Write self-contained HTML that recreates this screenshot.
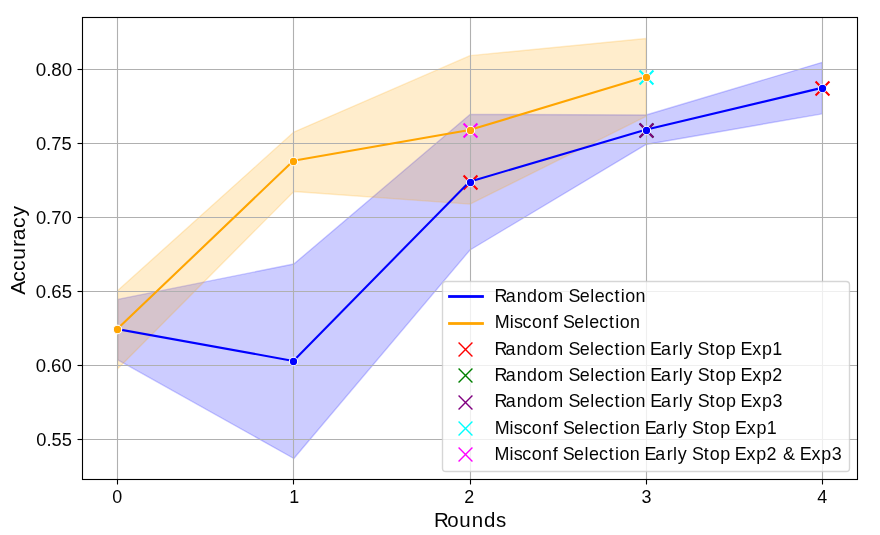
<!DOCTYPE html>
<html><head><meta charset="utf-8"><title>Accuracy vs Rounds</title>
<style>html,body{margin:0;padding:0;background:#fff;} svg{display:block;}</style>
</head><body>
<svg width="880" height="535" viewBox="0 0 880 535">
<defs><clipPath id="ax"><rect x="82" y="17" width="776" height="463"/></clipPath></defs>
<rect width="880" height="535" fill="#fff"/>
<g clip-path="url(#ax)" stroke-linejoin="round">
<path d="M117.73 299.41 L117.73 359.79 L293.86 458.50 L470.00 249.98 L646.14 144.46 L822.27 113.83 L822.27 62.33 L822.27 62.33 L646.14 115.01 L470.00 114.42 L293.86 264.04 L117.73 299.41 Z" fill="#0000ff" fill-opacity="0.2" stroke="#0000ff" stroke-opacity="0.2" stroke-width="1.39"/>
<path d="M117.73 290.53 L117.73 368.67 L293.86 191.52 L470.00 204.10 L646.14 116.34 L646.14 38.50 L646.14 38.50 L470.00 55.67 L293.86 132.03 L117.73 290.53 Z" fill="#ffa500" fill-opacity="0.2" stroke="#ffa500" stroke-opacity="0.2" stroke-width="1.39"/>
</g>
<g clip-path="url(#ax)" fill="none">
<path d="M463.56 189.44L477.44 175.56M463.56 175.56L477.44 189.44" stroke="#ff0000" stroke-width="2.08"/>
<path d="M815.56 95.44L829.44 81.56M815.56 81.56L829.44 95.44" stroke="#ff0000" stroke-width="2.08"/>
<path d="M639.56 137.44L653.44 123.56M639.56 123.56L653.44 137.44" stroke="#008000" stroke-width="2.08"/>
<path d="M639.56 137.44L653.44 123.56M639.56 123.56L653.44 137.44" stroke="#800080" stroke-width="2.08"/>
<path d="M639.56 84.44L653.44 70.56M639.56 70.56L653.44 84.44" stroke="#00ffff" stroke-width="2.08"/>
<path d="M463.56 137.44L477.44 123.56M463.56 123.56L477.44 137.44" stroke="#ff00ff" stroke-width="2.08"/>
</g>
<g stroke="#b0b0b0" stroke-width="1.11">
<line x1="117.5" y1="17" x2="117.5" y2="480"/>
<line x1="293.5" y1="17" x2="293.5" y2="480"/>
<line x1="470.5" y1="17" x2="470.5" y2="480"/>
<line x1="646.5" y1="17" x2="646.5" y2="480"/>
<line x1="822.5" y1="17" x2="822.5" y2="480"/>
<line x1="82" y1="69.5" x2="858" y2="69.5"/>
<line x1="82" y1="143.5" x2="858" y2="143.5"/>
<line x1="82" y1="217.5" x2="858" y2="217.5"/>
<line x1="82" y1="291.5" x2="858" y2="291.5"/>
<line x1="82" y1="365.5" x2="858" y2="365.5"/>
<line x1="82" y1="439.5" x2="858" y2="439.5"/>
</g>
<g clip-path="url(#ax)" fill="none" stroke-linejoin="round" stroke-linecap="square">
<path d="M117.23 329.10 L293.36 360.92 L469.50 181.70 L645.64 129.75 L821.77 87.87" stroke="#0000ff" stroke-width="2.08"/>
</g>
<g stroke="#fff" stroke-width="1.04">
<circle cx="117.50" cy="329.50" r="4.17" fill="#0000ff"/>
<circle cx="293.50" cy="361.50" r="4.17" fill="#0000ff"/>
<circle cx="470.50" cy="182.50" r="4.17" fill="#0000ff"/>
<circle cx="646.50" cy="130.50" r="4.17" fill="#0000ff"/>
<circle cx="822.50" cy="88.50" r="4.17" fill="#0000ff"/>
</g>
<g clip-path="url(#ax)" fill="none" stroke-linejoin="round" stroke-linecap="square">
<path d="M117.23 329.10 L293.36 160.83 L469.50 130.05 L645.64 76.77" stroke="#ffa500" stroke-width="2.08"/>
</g>
<g stroke="#fff" stroke-width="1.04">
<circle cx="117.50" cy="329.50" r="4.17" fill="#ffa500"/>
<circle cx="293.50" cy="161.50" r="4.17" fill="#ffa500"/>
<circle cx="470.50" cy="130.50" r="4.17" fill="#ffa500"/>
<circle cx="646.50" cy="77.50" r="4.17" fill="#ffa500"/>
</g>
<g stroke="#000" stroke-width="1.11" fill="none">
<rect x="82.5" y="17.5" width="775" height="462" stroke-linejoin="miter"/>
<line x1="117.5" y1="479.5" x2="117.5" y2="484.50"/>
<line x1="293.5" y1="479.5" x2="293.5" y2="484.50"/>
<line x1="470.5" y1="479.5" x2="470.5" y2="484.50"/>
<line x1="646.5" y1="479.5" x2="646.5" y2="484.50"/>
<line x1="822.5" y1="479.5" x2="822.5" y2="484.50"/>
<line x1="82.5" y1="69.5" x2="77.50" y2="69.5"/>
<line x1="82.5" y1="143.5" x2="77.50" y2="143.5"/>
<line x1="82.5" y1="217.5" x2="77.50" y2="217.5"/>
<line x1="82.5" y1="291.5" x2="77.50" y2="291.5"/>
<line x1="82.5" y1="365.5" x2="77.50" y2="365.5"/>
<line x1="82.5" y1="439.5" x2="77.50" y2="439.5"/>
</g>
<g style="font-family:'Liberation Sans',sans-serif" fill="#040404" opacity="0.999">
<text transform="translate(117.23,503.00) scale(0.9550,1)" x="-5.22" y="0" font-size="18.75">0</text>
<text transform="translate(293.36,503.00) scale(0.9550,1)" x="-4.27" y="0" font-size="18.75">1</text>
<text transform="translate(469.50,503.00) scale(0.9550,1)" x="-5.45" y="0" font-size="18.75">2</text>
<text transform="translate(645.64,503.00) scale(0.9550,1)" x="-4.41" y="0" font-size="18.75">3</text>
<text transform="translate(821.77,503.00) scale(0.9550,1)" x="-4.69" y="0" font-size="18.75">4</text>
<text x="72.30" y="76.00" font-size="18.40" text-anchor="end" textLength="36.60" lengthAdjust="spacingAndGlyphs">0.80</text>
<text x="71.70" y="150.00" font-size="18.40" text-anchor="end" textLength="35.80" lengthAdjust="spacingAndGlyphs">0.75</text>
<text x="71.70" y="223.50" font-size="18.40" text-anchor="end" textLength="35.80" lengthAdjust="spacingAndGlyphs">0.70</text>
<text x="72.05" y="298.00" font-size="18.40" text-anchor="end" textLength="36.20" lengthAdjust="spacingAndGlyphs">0.65</text>
<text x="71.75" y="372.00" font-size="18.40" text-anchor="end" textLength="36.10" lengthAdjust="spacingAndGlyphs">0.60</text>
<text x="71.95" y="446.00" font-size="18.40" text-anchor="end" textLength="35.60" lengthAdjust="spacingAndGlyphs">0.55</text>
<text transform="translate(469.50,526.95) scale(0.9800,1)" x="-36.32 -22.79 -10.45 2.25 14.71 27.06" y="0" font-size="20.90">Rounds</text>
<text transform="translate(25.00,248.00) rotate(-90)" x="-46.85 -33.67 -22.95 -11.81 1.14 7.66 20.10 31.46" y="0" font-size="21.05">Accuracy</text>
</g>
<rect x="442.50" y="281.50" width="407.00" height="190.00" rx="3.33" ry="3.33" fill="#fff" fill-opacity="0.8" stroke="#ccc" stroke-opacity="0.8" stroke-width="1.39"/>
<rect x="448.106" y="295.106" width="35.788" height="2.788" fill="#0000ff"/>
<rect x="448.106" y="322.106" width="35.788" height="2.788" fill="#ffa500"/>
<g fill="none">
<path d="M458.56 356.44L472.44 342.56M458.56 342.56L472.44 356.44" stroke="#ff0000" stroke-width="1.39"/>
<path d="M458.56 382.44L472.44 368.56M458.56 368.56L472.44 382.44" stroke="#008000" stroke-width="1.39"/>
<path d="M458.56 409.44L472.44 395.56M458.56 395.56L472.44 409.44" stroke="#800080" stroke-width="1.39"/>
<path d="M458.56 435.44L472.44 421.56M458.56 421.56L472.44 435.44" stroke="#00ffff" stroke-width="1.39"/>
<path d="M458.56 461.44L472.44 447.56M458.56 447.56L472.44 461.44" stroke="#ff00ff" stroke-width="1.39"/>
</g>
<g style="font-family:'Liberation Sans',sans-serif" fill="#040404" opacity="0.999">
<text transform="translate(495.50,301.75) scale(0.9650,1)" x="-0.95 10.54 21.97 32.76 43.60 54.75 70.97 75.66 87.40 98.15 102.79 113.10 123.43 129.77 134.34 145.10" y="0" font-size="18.55">Random Selection</text>
<text transform="translate(495.50,328.33) scale(0.9650,1)" x="-0.79 14.69 19.12 28.01 37.71 48.47 59.72 65.27 69.97 81.71 92.45 97.09 107.40 117.74 124.08 128.64 139.41" y="0" font-size="18.55">Misconf Selection</text>
<text transform="translate(495.50,354.67) scale(0.9650,1)" x="-1.05 10.43 21.87 32.66 43.50 54.64 70.86 75.56 87.30 98.04 102.68 112.99 123.33 129.67 134.23 145.00 155.73 160.24 171.40 183.27 189.90 194.82 204.72 209.41 221.72 227.84 238.68 249.36 253.87 265.99 276.17 286.92" y="0" font-size="18.55">Random Selection Early Stop Exp1</text>
<text transform="translate(495.50,381.35) scale(0.9650,1)" x="-0.95 10.54 21.97 32.76 43.60 54.75 70.97 75.66 87.40 98.15 102.79 113.10 123.43 129.77 134.34 145.10 155.84 160.35 171.50 183.37 190.01 194.92 204.82 209.52 221.83 227.95 238.79 249.46 253.97 266.09 276.28 286.89" y="0" font-size="18.55">Random Selection Early Stop Exp2</text>
<text transform="translate(495.50,407.08) scale(0.9650,1)" x="-0.95 10.54 21.97 32.76 43.60 54.75 70.97 75.66 87.40 98.15 102.79 113.10 123.43 129.77 134.34 145.10 155.84 160.35 171.50 183.37 190.01 194.92 204.82 209.52 221.83 227.95 238.79 249.46 253.97 266.09 276.28 287.14" y="0" font-size="18.55">Random Selection Early Stop Exp3</text>
<text transform="translate(495.50,433.76) scale(0.9650,1)" x="-0.89 14.59 19.01 27.91 37.61 48.37 59.62 65.17 69.87 81.60 92.35 96.99 107.30 117.63 123.97 128.54 139.30 150.04 154.55 165.71 177.57 184.21 189.13 199.02 203.72 216.03 222.15 232.99 243.67 248.18 260.29 270.48 281.22" y="0" font-size="18.55">Misconf Selection Early Stop Exp1</text>
<text transform="translate(495.50,460.10) scale(0.9650,1)" x="-1.05 14.43 18.86 27.75 37.45 48.21 59.46 65.01 69.71 81.45 92.20 96.83 107.14 117.48 123.82 128.39 139.15 149.88 154.39 165.55 177.42 184.06 188.97 198.87 203.56 215.87 222.00 232.83 243.51 248.02 260.14 270.33 280.94 291.96 297.92 310.87 315.39 327.50 337.69 348.56" y="0" font-size="18.55">Misconf Selection Early Stop Exp2 &amp; Exp3</text>
</g>
</svg>
</body></html>
